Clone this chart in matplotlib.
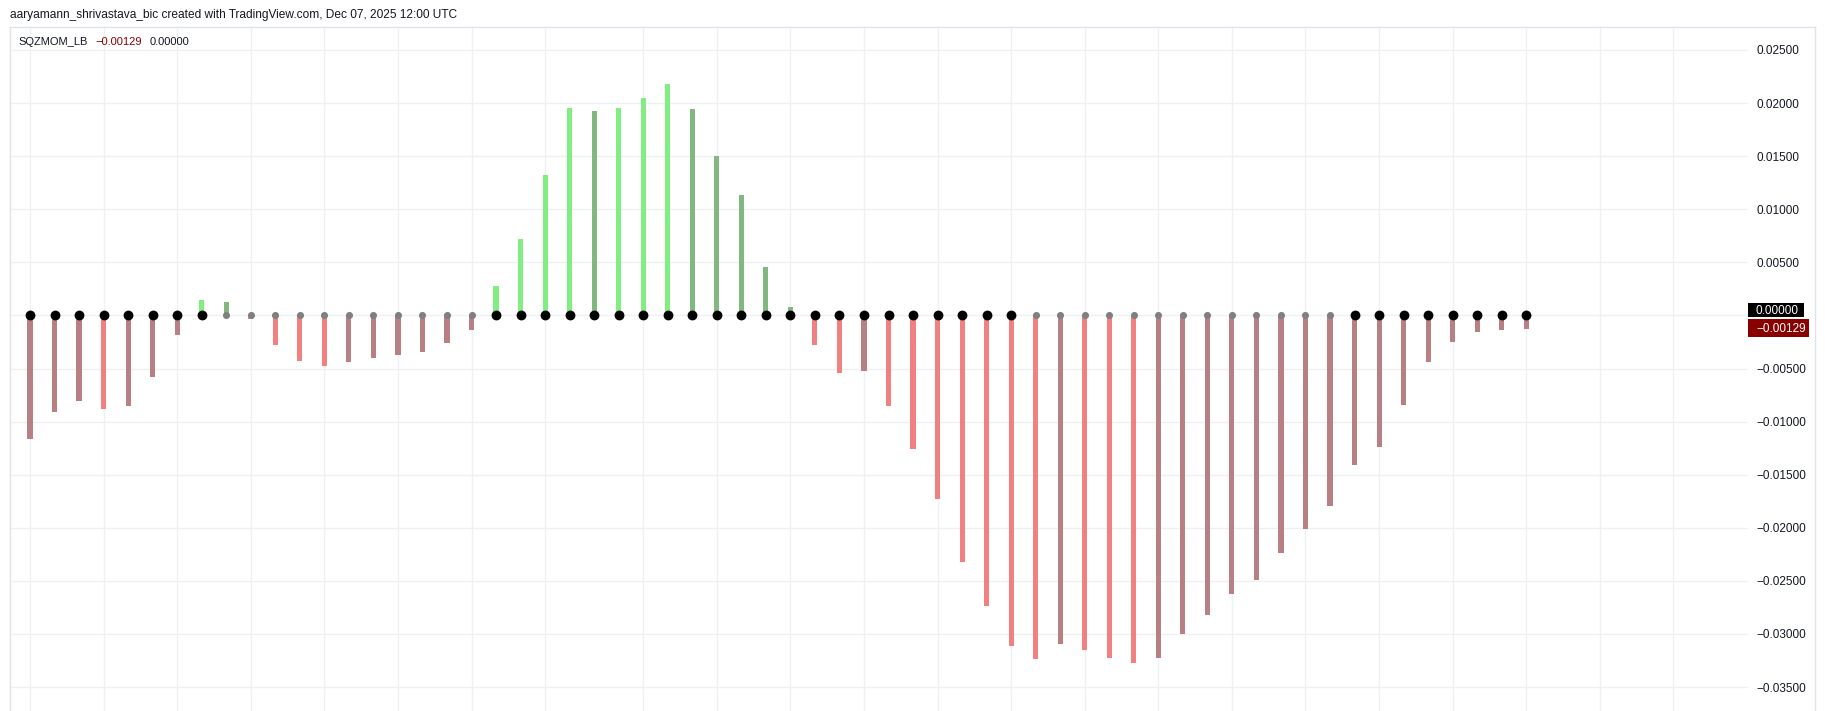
# Squeeze momentum (SQZMOM_LB) pane, TradingView style

import numpy as np
import matplotlib
matplotlib.use('Agg')
import matplotlib.pyplot as plt
from matplotlib.patches import Rectangle
from matplotlib.lines import Line2D

plt.rcParams.update({
    'font.family': ['Liberation Sans', 'DejaVu Sans'],
    'figure.dpi': 100,
    'savefig.dpi': 100,
})

W, H = 1825, 711
TEXT = '#131722'

# bar -1 sits just outside the left edge
bar_index = list(range(-1, 62))
momentum = [-0.01280,
    -0.01168, -0.00910, -0.00807, -0.00882, -0.00857, -0.00581, -0.00188, 0.00148, 0.00122, -0.00030,
    -0.00282, -0.00430, -0.00477, -0.00440, -0.00402, -0.00374, -0.00345, -0.00261, -0.00141, 0.00278,
    0.00722, 0.01325, 0.01953, 0.01930, 0.01955, 0.02047, 0.02182, 0.01943, 0.01501, 0.01134,
    0.00456, 0.00082, -0.00276, -0.00540, -0.00521, -0.00854, -0.01255, -0.01726, -0.02323, -0.02737,
    -0.03114, -0.03236, -0.03095, -0.03152, -0.03227, -0.03274, -0.03227, -0.03001, -0.02822, -0.02624,
    -0.02493, -0.02238, -0.02012, -0.01796, -0.01410, -0.01240, -0.00845, -0.00440, -0.00251, -0.00157,
    -0.00138, -0.00129]
# B = squeeze on (black dot), G = squeeze off (gray dot)
squeeze = ("G" + "BBBBBBBB" + "GGGGGGGGGGG" + "BBBBBBBBBBBBBBBBBBBBBB"
           + "GGGGGGGGGGGGG" + "BBBBBBBB")
grid_bars = [0, 3, 6, 9, 12, 15, 18, 21, 25, 28, 31, 34, 37, 40, 43, 46, 49, 52, 55, 58, 61, 64, 67]
y_ticks = [0.025, 0.02, 0.015, 0.01, 0.005, 0.0, -0.005, -0.01, -0.015, -0.02, -0.025, -0.03, -0.035]
last_value = momentum[-1]

LIME, GREEN, RED, MAROON = '#80ee80', '#80b880', '#f28080', '#b98084'


def bar_colour(i):
    v = momentum[i]
    prev = momentum[i - 1] if i > 0 else v - 1e-9
    if v > 0:
        return LIME if v > prev else GREEN
    return RED if v < prev else MAROON


def fx(x):
    return x / W


def fy(y):
    return 1 - y / H


def fmt(v):
    return f'{v:.5f}'.replace('-', '\u2212')


colors = [bar_colour(i) for i in range(len(momentum))]

fig = plt.figure(figsize=(W / 100, H / 100))
ax = fig.add_axes([fx(10), 0, (1748 - 10) / W, (H - 27) / H])

ax.bar(bar_index, momentum, width=0.21, color=colors, zorder=2)

xs = np.array(bar_index)
on = np.array([c == 'B' for c in squeeze])
zeros = np.zeros(len(xs))
ax.scatter(xs[~on], zeros[~on], s=26, color='#808080', zorder=3, linewidths=0)
ax.scatter(xs[on], zeros[on], s=50, color='black', zorder=4, linewidths=0)

ax.set_xlim(-0.815, 70.04)
ax.set_ylim(-0.03726, 0.027166)
ax.set_xticks(grid_bars)
ax.set_yticks(y_ticks)
ax.grid(True, color='#eef0f3', linewidth=1, zorder=0)
ax.tick_params(length=0, labelbottom=False, labelleft=False)
ax.yaxis.tick_right()
ax.tick_params(axis='y', labelright=True, pad=6, labelsize=8.5, labelcolor=TEXT)
ax.set_yticklabels(['' if v == 0 else fmt(v) for v in y_ticks])
for s in ax.spines.values():
    s.set_visible(False)

# pane borders
border = '#e0e3eb'
fig.add_artist(Line2D([fx(10), fx(1815)], [fy(27), fy(27)], color=border, lw=1))
fig.add_artist(Line2D([fx(10), fx(10)], [fy(27), 0], color=border, lw=1))
fig.add_artist(Line2D([fx(1815), fx(1815)], [fy(27), 0], color=border, lw=1))

# price labels on the scale
fig.add_artist(Rectangle((fx(1748), fy(317)), fx(56), 14 / H, color='black', lw=0))
fig.add_artist(Rectangle((fx(1748), fy(337)), fx(61), 18 / H, color='#880000', lw=0))
fig.text(fx(1756), fy(311), '0.00000', color='white', fontsize=8.5, va='center')
fig.text(fx(1756), fy(329), fmt(last_value), color='white', fontsize=8.5, va='center')

fig.text(fx(10), fy(15), 'aaryamann_shrivastava_bic created with TradingView.com, Dec 07, 2025 12:00 UTC',
         color=TEXT, fontsize=8.6, va='center')

# legend line: name, value, zero line value, placed one after another
renderer = fig.canvas.get_renderer()
x = 18
for txt, col in [('SQZMOM_LB', TEXT), (fmt(last_value), '#880000'), ('0.00000', TEXT)]:
    t = fig.text(fx(x), fy(42), txt, color=col, fontsize=8, va='center')
    x += t.get_window_extent(renderer).width + 8

fig.savefig('out.png', facecolor='white')
